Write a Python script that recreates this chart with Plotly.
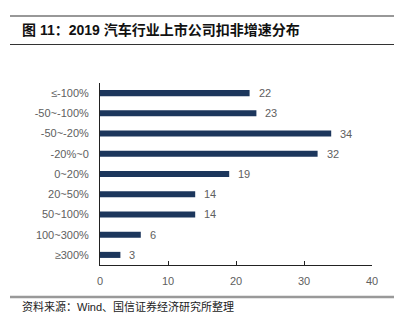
import plotly.graph_objects as go

categories = ["≤-100%", "-50~-100%", "-50~-20%", "-20%~0", "0~20%", "20~50%", "50~100%", "100~300%", "≥300%"]
counts = [22, 23, 34, 32, 19, 14, 14, 6, 3]
x_ticks = [0, 10, 20, 30, 40]

title_text = "图 11：2019 汽车行业上市公司扣非增速分布"
source_text = "资料来源：Wind、国信证券经济研究所整理"

FONT = "Liberation Sans, Noto Sans CJK SC, sans-serif"
BAR = "#1c365c"
GRAY = "#606060"

fig = go.Figure()
fig.add_trace(go.Bar(
    x=counts, y=categories, orientation="h",
    marker=dict(color=BAR, line=dict(width=0)),
    width=0.3, showlegend=False,
))

for c, v in zip(categories, counts):
    fig.add_annotation(x=v, y=c, xref="x", yref="y", text=str(v),
                       showarrow=False, xanchor="left", xshift=7,
                       font=dict(size=11, color=GRAY, family=FONT))

L, R, T, B = 100, 22, 83, 60
W, H = 394, 325
pw = W - L - R
ph = H - T - B

def px_x(p):
    return (p - L) / pw

def px_y(p):
    return (H - B - p) / ph

for yy in (16, 44.5):
    fig.add_shape(type="line", xref="paper", yref="paper",
                  x0=px_x(10), x1=px_x(394), y0=px_y(yy), y1=px_y(yy),
                  line=dict(color="#333333", width=1.2))
fig.add_shape(type="line", xref="paper", yref="paper",
              x0=px_x(10), x1=px_x(394), y0=px_y(297), y1=px_y(297),
              line=dict(color="#999999", width=2.5))

fig.add_annotation(xref="paper", yref="paper", x=px_x(20), y=px_y(30.5),
                   text="<b>" + title_text + "</b>", showarrow=False,
                   xanchor="left", yanchor="middle",
                   font=dict(size=14, color="#111111", family="Liberation Sans, Noto Sans CJK SC"))
fig.add_annotation(xref="paper", yref="paper", x=px_x(20), y=px_y(306),
                   text=source_text, showarrow=False,
                   xanchor="left", yanchor="middle",
                   font=dict(size=11, color="#222222", family=FONT))

fig.update_layout(
    width=W, height=H,
    margin=dict(l=L, r=R, t=T, b=B, pad=0),
    paper_bgcolor="white", plot_bgcolor="white",
    font=dict(family=FONT, size=11, color=GRAY),
    bargap=0.7,
)
fig.update_xaxes(range=[0, 40], tickvals=x_ticks, showgrid=False, zeroline=False,
                 showline=True, linecolor="#222222", linewidth=1,
                 ticks="inside", ticklen=4, tickcolor="#222222",
                 tickfont=dict(size=11, color=GRAY), ticklabelstandoff=6)
fig.update_yaxes(autorange="reversed", showgrid=False, zeroline=False,
                 showline=True, linecolor="#222222", linewidth=1,
                 ticks="", ticklabelstandoff=8,
                 tickfont=dict(size=11, color=GRAY))

fig.write_html("out.html")
